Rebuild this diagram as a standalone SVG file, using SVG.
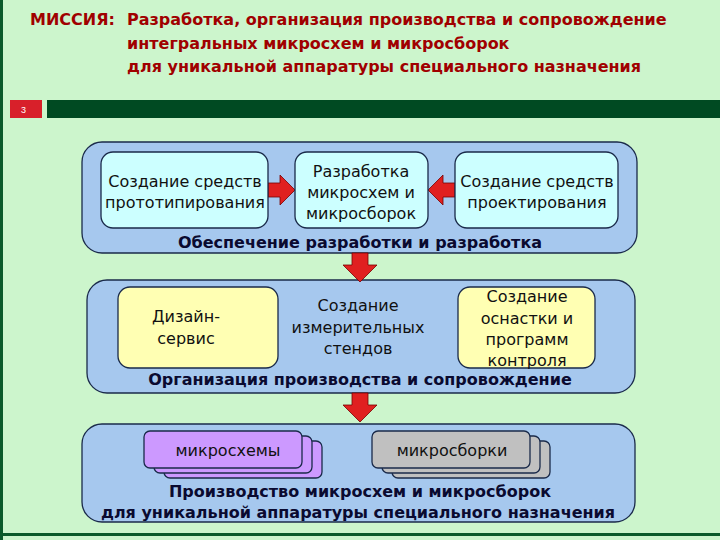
<svg xmlns="http://www.w3.org/2000/svg" width="720" height="540" viewBox="0 0 720 540">
<defs>
<style>
.t{font-family:"DejaVu Sans",sans-serif;fill:#a00000;font-weight:bold;font-size:16px}
.b{font-family:"DejaVu Sans",sans-serif;font-size:16px;fill:#111;text-anchor:middle}
.l{font-family:"DejaVu Sans",sans-serif;font-weight:bold;font-size:16px;fill:#0a0a30;text-anchor:middle}
.panel{fill:#a6c8ee;stroke:#1a2a4a;stroke-width:1.3}
.box{stroke:#1a2a4a;stroke-width:1.3}
.ar{fill:#e02020;stroke:#700;stroke-width:0.8}
</style>
</defs>
<rect width="720" height="540" fill="#ccf5cc"/>
<rect x="0" y="0" width="3" height="540" fill="#0a5a2a"/>
<rect x="0" y="533" width="720" height="3" fill="#0a5a2a"/>
<text class="t" x="30" y="25">МИССИЯ:</text>
<text class="t" x="127" y="25">Разработка, организация производства и сопровождение</text>
<text class="t" x="127" y="49">интегральных микросхем и микросборок</text>
<text class="t" x="127" y="72">для  уникальной аппаратуры специального назначения</text>
<rect x="10" y="100" width="32" height="18" fill="#d8202a"/>
<text x="21" y="113" font-family="Liberation Sans,sans-serif" font-size="9" fill="#fff">3</text>
<rect x="47" y="100" width="673" height="18" fill="#004a22"/>
<g id="panel1">
<rect class="panel" x="82" y="142" width="555" height="111" rx="20"/>
<text class="l" x="360" y="248">Обеспечение разработки и разработка</text>
</g>
<g id="panel2">
<rect class="panel" x="87" y="280" width="548" height="113" rx="20"/>
<text class="l" x="360" y="385">Организация производства и сопровождение</text>
</g>
<g id="panel3">
<rect class="panel" x="82" y="424" width="553" height="98" rx="20"/>
<text class="l" x="360" y="497">Производство микросхем и микросборок</text>
<text class="l" x="358" y="518">для уникальной аппаратуры специального назначения</text>
</g>
<g id="connectors">
<path class="ar" d="M268,183 h12 v-8 l15,15 l-15,15 v-8 h-12 z"/>
<path class="ar" d="M455,183 h-12 v-8 l-15,15 l15,15 v-8 h12 z"/>
<path class="ar" d="M352,253 v12 h-9 l17,17 l17,-17 h-9 v-12 z"/>
<path class="ar" d="M352,393 v12 h-9 l17,17 l17,-17 h-9 v-12 z"/>
</g>
<g id="nodeA"><rect class="box" x="101" y="152" width="167" height="76" rx="12" fill="#ccffff"/>
<text class="b" x="185" y="187">Создание средств</text><text class="b" x="185" y="208">прототипирования</text></g>
<g id="nodeB"><rect class="box" x="295" y="152" width="133" height="76" rx="12" fill="#ccffff"/>
<text class="b" x="361" y="177">Разработка</text><text class="b" x="361" y="198">микросхем и</text><text class="b" x="361" y="219">микросборок</text></g>
<g id="nodeC"><rect class="box" x="455" y="152" width="163" height="76" rx="12" fill="#ccffff"/>
<text class="b" x="537" y="187">Создание средств</text><text class="b" x="537" y="208">проектирования</text></g>
<g id="nodeD"><rect class="box" x="118" y="287" width="160" height="81" rx="12" fill="#ffffb3"/>
<text class="b" x="186" y="322">Дизайн-</text><text class="b" x="186" y="344">сервис</text></g>
<g id="nodeE"><text class="b" x="358" y="311">Создание</text><text class="b" x="358" y="333">измерительных</text><text class="b" x="358" y="354">стендов</text></g>
<g id="nodeF"><rect class="box" x="458" y="287" width="137" height="81" rx="12" fill="#ffffb3"/>
<text class="b" x="527" y="302">Создание</text><text class="b" x="527" y="324">оснастки и</text><text class="b" x="527" y="345">программ</text><text class="b" x="527" y="366">контроля</text></g>
<g id="nodeG">
<rect class="box" x="164" y="441" width="158" height="37" rx="6" fill="#cc99ff"/>
<rect class="box" x="154" y="436" width="158" height="37" rx="6" fill="#cc99ff"/>
<rect class="box" x="144" y="431" width="158" height="37" rx="6" fill="#cc99ff"/>
<text class="b" x="228" y="456">микросхемы</text></g>
<g id="nodeH">
<rect class="box" x="392" y="441" width="158" height="37" rx="6" fill="#c0c0c0"/>
<rect class="box" x="382" y="436" width="158" height="37" rx="6" fill="#c0c0c0"/>
<rect class="box" x="372" y="431" width="158" height="37" rx="6" fill="#c0c0c0"/>
<text class="b" x="452" y="456">микросборки</text></g>
</svg>
